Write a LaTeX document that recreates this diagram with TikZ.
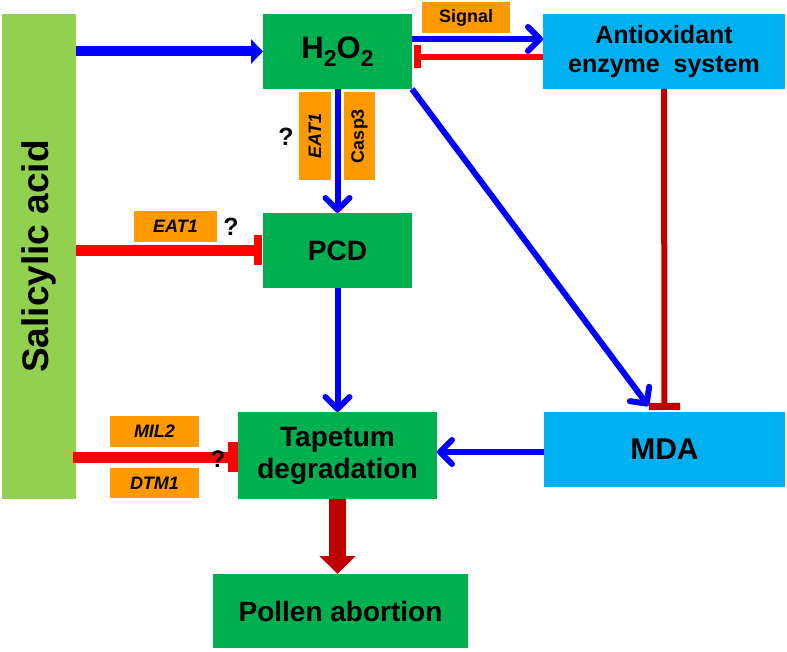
\documentclass[tikz,border=0pt]{standalone}
\usepackage{fontspec}
\setmainfont{Liberation Sans}
\usetikzlibrary{arrows.meta,calc}
\definecolor{cgreen}{HTML}{00B050}
\definecolor{clight}{HTML}{92D050}
\definecolor{ccyan}{HTML}{00B0F0}
\definecolor{corange}{HTML}{FF9900}
\definecolor{cblue}{HTML}{0000FF}
\definecolor{cred}{HTML}{FF0000}
\definecolor{cdark}{HTML}{C00000}
\newcommand\mysub[1]{\raisebox{-0.45ex}{\fontsize{23}{23}\selectfont #1}}
\begin{document}
\begin{tikzpicture}[x=1pt,y=-1pt,
  box/.style={inner sep=0pt, outer sep=0pt, align=center, text=black},
  gbox/.style={box, fill=cgreen, font=\fontsize{28}{32}\selectfont\bfseries},
  cbox/.style={box, fill=ccyan},
  obox/.style={box, fill=corange, font=\fontsize{18}{18}\selectfont\bfseries},
  qmark/.style={inner sep=0pt, font=\fontsize{25}{25}\selectfont\bfseries},
  bluearrow/.style={draw=cblue, line width=6pt, -{Straight Barb[length=12pt,width=24pt,round]}},
  redbar/.style={draw=cred, line width=11pt, -{Bar[width=30pt,line width=8pt]}},
]
\useasboundingbox (0,0) rectangle (787,652);

% nodes
\node[box, fill=clight, minimum width=74pt, minimum height=485pt] (sa) at (39,256.5) {};
\node[box, rotate=90, font=\fontsize{37}{37}\selectfont\bfseries] (satext) at (39,256.5) {Salicylic acid};
\node[gbox, minimum width=149pt, minimum height=75pt, font=\fontsize{31}{31}\selectfont\bfseries] (h2o2) at (337.5,51.5) {H\mysub{2}O\mysub{2}};
\node[gbox, minimum width=149pt, minimum height=75pt] (pcd) at (337.5,250.5) {PCD};
\node[gbox, minimum width=199pt, minimum height=87pt] (tap) at (337.5,455.5) {Tapetum\\degradation};
\node[gbox, minimum width=255pt, minimum height=74pt] (pollen) at (340.5,611) {Pollen abortion};
\node[cbox, minimum width=242pt, minimum height=75pt, font=\fontsize{25}{29}\selectfont\bfseries] (antiox) at (664,51.5) {Antioxidant\\enzyme~~system};
\node[cbox, minimum width=241pt, minimum height=75pt, font=\fontsize{30}{30}\selectfont\bfseries] (mda) at (664.5,449.5) {MDA};

% orange labels
\node[obox, minimum width=88pt, minimum height=31pt] (signal) at (466,17.5) {Signal};
\node[obox, rotate=90, minimum width=88pt, minimum height=32pt] (eatv) at (315,136) {\itshape EAT1};
\node[obox, rotate=90, minimum width=88pt, minimum height=31pt] (casp) at (359.5,136) {Casp3};
\node[obox, minimum width=83pt, minimum height=31pt] (eath) at (175.5,226.5) {\itshape EAT1};
\node[obox, minimum width=89pt, minimum height=31pt] (mil) at (154.5,431.5) {\itshape MIL2};
\node[obox, minimum width=89pt, minimum height=30pt] (dtm) at (154.5,483) {\itshape DTM1};

% connectors
\draw[draw=cblue, line width=10pt, -{Triangle[length=12pt,width=24pt]}] (sa.east |- h2o2) -- (h2o2.west);
\draw[bluearrow] (h2o2.south) -- (pcd.north);
\draw[bluearrow] (pcd.south) -- (tap.north);
\draw[bluearrow] ([yshift=12.5pt]h2o2.east) -- ([yshift=12.5pt]antiox.west);
\draw[draw=cred, line width=6pt, -{Bar[width=23pt,line width=7pt]}] ([yshift=-5.5pt]antiox.west) -- ([yshift=-5.5pt,xshift=2pt]h2o2.east);
\coordinate (mdatip) at ([xshift=-16pt,yshift=6pt]mda.north);
\draw[bluearrow] (h2o2.south east) -- (mdatip);
\draw[draw=cdark, line width=6pt, -{Bar[width=31pt,line width=7pt]}] (antiox.south) -- ([yshift=2pt]mda.north);
\draw[bluearrow] ([yshift=-2.5pt]mda.west) -- ([yshift=-2.5pt]mda.west -| tap.east);
\draw[redbar] (sa.east |- pcd) -- ([xshift=-1pt]pcd.west);
\draw[draw=cred, line width=11pt, -{Bar[width=30pt,line width=10pt]}] ([xshift=-3pt,yshift=-1.5pt]sa.east |- tap) -- ([yshift=-1.5pt]tap.west);
\draw[draw=cdark, line width=17pt, -{Triangle[length=18pt,width=35pt]}] (tap.south) -- (tap.south |- pollen.north);

% question marks
\node[qmark] (q1) at (286,137) {?};
\node[qmark] (q2) at (231,227) {?};
\node[qmark, font=\fontsize{24}{24}\selectfont\bfseries] (q3) at (218,459) {?};
\end{tikzpicture}
\end{document}
